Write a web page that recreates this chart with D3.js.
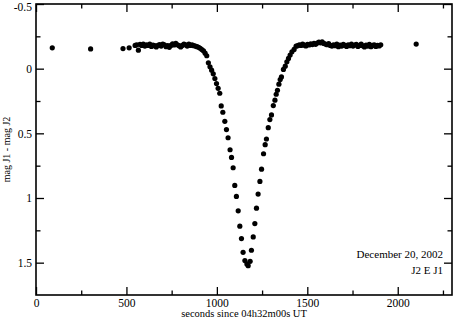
<!DOCTYPE html>
<html><head><meta charset="utf-8">
<script src="https://cdn.jsdelivr.net/npm/d3@7"></script>
<style>body{margin:0;background:#fff}svg{display:block}text{font-family:"Liberation Serif","Times New Roman",serif;fill:#000}</style>
</head><body><svg id="c" width="453" height="320"></svg>
<script>
const times = [90,302,481,515,
548,557,566,575,584,593,602,611,620,629,638,647,656,665,674,683,692,701,710,719,728,737,746,755,764,773,782,791,800,809,818,827,836,845,854,863,872,881,890,899,908,917,
926,935,944,953,962,971,980,989,998,1007,1016,
1024,1033,1044,1053,1062,1073,1081,1090,1099,1108,1118,1127,1136,1145,1155,1166,1173,
1184,1191,1201,1210,1219,1228,1238,1247,1258,1267,1274,1284,1293,1302,1312,1321,
1328,1335,1343,1350,1357,1368,1378,1387,1396,1405,1415,1427,1438,
1447,1456,1465,1474,1483,1492,1501,1510,1519,1528,1537,1546,1555,1564,1573,1582,1591,1600,1609,1618,1627,1636,1645,1654,1663,1672,1681,1690,1699,1708,1717,1726,1735,1744,1753,1762,1771,1780,1789,1798,1807,1816,1825,1834,1843,1852,1861,1870,1879,1888,1897,1906,
2102];
const magDiff = [-0.161,-0.153,-0.155,-0.161,
-0.18,-0.185,-0.143,-0.188,-0.18,-0.19,-0.175,-0.185,-0.18,-0.19,-0.172,-0.182,-0.178,-0.168,-0.18,-0.187,-0.175,-0.19,-0.185,-0.17,-0.178,-0.165,-0.18,-0.192,-0.183,-0.195,-0.185,-0.178,-0.168,-0.18,-0.19,-0.185,-0.175,-0.19,-0.18,-0.185,-0.178,-0.175,-0.17,-0.165,-0.158,-0.148,
-0.138,-0.12,-0.1,-0.045,-0.015,0.012,0.04,0.076,0.115,0.152,0.19,
0.288,0.337,0.407,0.471,0.534,0.627,0.686,0.766,0.903,0.988,1.099,1.218,1.314,1.42,1.484,1.51,1.523,
1.49,1.404,1.301,1.198,1.079,0.97,0.872,0.777,0.658,0.588,0.544,0.456,0.394,0.358,0.285,0.244,
0.198,0.167,0.12,0.084,0.064,0.006,-0.019,-0.053,-0.079,-0.105,-0.13,-0.149,-0.174,
-0.178,-0.185,-0.18,-0.19,-0.182,-0.176,-0.188,-0.183,-0.192,-0.186,-0.195,-0.188,-0.198,-0.205,-0.2,-0.208,-0.195,-0.19,-0.185,-0.193,-0.18,-0.175,-0.185,-0.178,-0.19,-0.17,-0.182,-0.175,-0.188,-0.18,-0.172,-0.185,-0.178,-0.19,-0.175,-0.183,-0.188,-0.172,-0.18,-0.19,-0.177,-0.168,-0.182,-0.175,-0.188,-0.17,-0.18,-0.185,-0.172,-0.18,-0.176,-0.184,
-0.19];
const xMajor = [0,500,1000,1500,2000];
const xMinor = [250,750,1250,1750,2250];
const yMajor = [-0.5,0,0.5,1,1.5];
const yMinor = [-0.25,0.25,0.75,1.25];
const yTickLabels = ["-0.5","0","0.5","1","1.5"];
const xTitle = "seconds since 04h32m00s UT";
const yTitle = "mag J1 - mag J2";
const notes = ["December 20, 2002","J2 E J1"];

const L=36,T=4,R=452,B=295;
const svg=d3.select("#c");
const x=d3.scaleLinear().domain([0,2300]).range([L,R]);
const y=d3.scaleLinear().domain([-0.5,1.75]).range([T,B]);

// points
svg.append("g").selectAll("circle").data(times).join("circle")
  .attr("cx",(d)=>x(d)).attr("cy",(d,i)=>y(magDiff[i])).attr("r",2.6).attr("fill","#000");

function styleAxis(g){g.select(".domain").remove();g.selectAll("line").attr("stroke","#000").attr("stroke-width",1.3);g.selectAll("text").attr("font-family",'"Liberation Serif",serif').attr("font-size",11.5).attr("fill","#000");}
// bottom
svg.append("g").attr("transform",`translate(0,${B})`).call(d3.axisBottom(x).tickValues(xMajor).tickSize(-8).tickPadding(4).tickFormat(d3.format("d"))).call(styleAxis);
svg.append("g").attr("transform",`translate(0,${B})`).call(d3.axisBottom(x).tickValues(xMinor).tickSize(-4.5).tickFormat("")).call(styleAxis);
// top
svg.append("g").attr("transform",`translate(0,${T})`).call(d3.axisTop(x).tickValues(xMajor).tickSize(-8).tickFormat("")).call(styleAxis);
svg.append("g").attr("transform",`translate(0,${T})`).call(d3.axisTop(x).tickValues(xMinor).tickSize(-4.5).tickFormat("")).call(styleAxis);
// left
const yl=svg.append("g").attr("transform",`translate(${L},0)`).call(d3.axisLeft(y).tickValues(yMajor).tickSize(-8).tickPadding(4).tickFormat((d,i)=>yTickLabels[i])).call(styleAxis);
yl.selectAll("text").filter((d)=>d===-0.5).attr("dy","0.55em");
svg.append("g").attr("transform",`translate(${L},0)`).call(d3.axisLeft(y).tickValues(yMinor).tickSize(-4.5).tickFormat("")).call(styleAxis);
// right
svg.append("g").attr("transform",`translate(${R},0)`).call(d3.axisRight(y).tickValues(yMajor).tickSize(-8).tickFormat("")).call(styleAxis);
svg.append("g").attr("transform",`translate(${R},0)`).call(d3.axisRight(y).tickValues(yMinor).tickSize(-4.5).tickFormat("")).call(styleAxis);

// frame
svg.append("rect").attr("x",L).attr("y",T).attr("width",R-L).attr("height",B-T).attr("fill","none").attr("stroke","#000").attr("stroke-width",1.6);

// titles
svg.append("text").attr("x",(L+R)/2).attr("y",317).attr("text-anchor","middle").attr("font-size",10.5).text(xTitle);
svg.append("text").attr("transform",`translate(9.5,${(T+B)/2}) rotate(-90)`).attr("text-anchor","middle").attr("font-size",10).text(yTitle);
svg.append("text").attr("x",443).attr("y",258).attr("text-anchor","end").attr("font-size",11).text(notes[0]);
svg.append("text").attr("x",443).attr("y",274).attr("text-anchor","end").attr("font-size",11).text(notes[1]);
</script></body></html>
